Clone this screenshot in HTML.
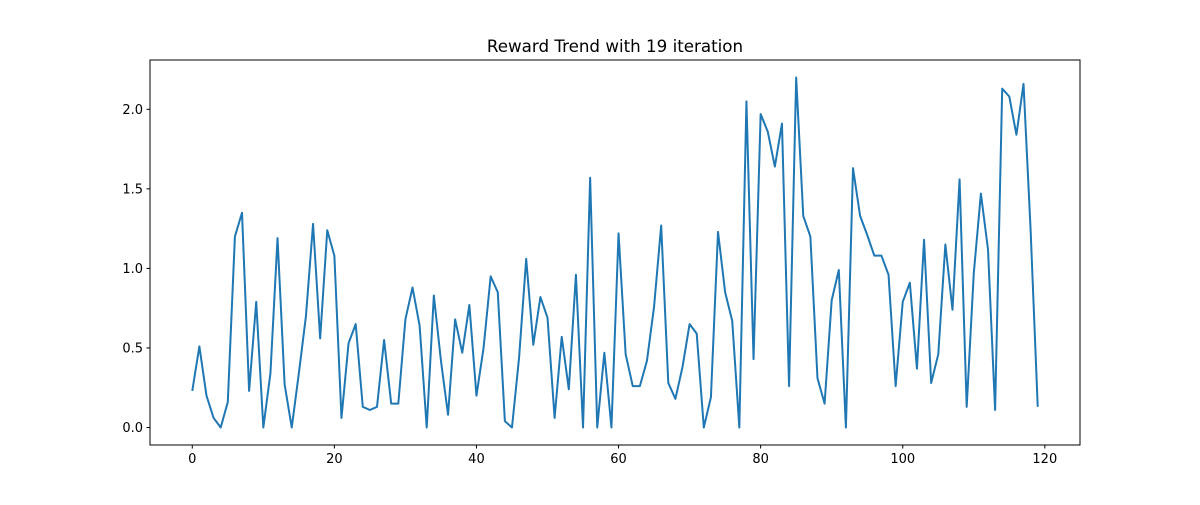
<!DOCTYPE html>
<html><head><meta charset="utf-8"><style>
body{margin:0;background:#fff;}
svg text{font-family:"DejaVu Sans","Liberation Sans",sans-serif;fill:#000;}
</style></head><body>
<svg id="chart" width="1200" height="500" xmlns="http://www.w3.org/2000/svg">
<rect width="1200" height="500" fill="#fff"/>
<text x="615" y="52" font-size="16.7" text-anchor="middle">Reward Trend with 19 iteration</text>
<g id="ticks"></g>
<polyline id="line" fill="none" stroke="#1f77b4" stroke-width="2" stroke-linejoin="round"/>
<rect x="150" y="60" width="930" height="385" fill="none" stroke="#000" stroke-width="1"/>
</svg>
<script>
const rewards=[0.23,0.51,0.2,0.06,0.0,0.16,1.2,1.35,0.23,0.79,0.0,0.34,1.19,0.27,0.0,0.34,0.7,1.28,0.56,1.24,1.08,0.06,0.53,0.65,0.13,0.11,0.13,0.55,0.15,0.15,0.68,0.88,0.64,0.0,0.83,0.42,0.08,0.68,0.47,0.77,0.2,0.5,0.95,0.85,0.04,0.0,0.44,1.06,0.52,0.82,0.69,0.06,0.57,0.24,0.96,0.0,1.57,0.0,0.47,0.0,1.22,0.46,0.26,0.26,0.42,0.76,1.27,0.28,0.18,0.38,0.65,0.59,0.0,0.19,1.23,0.85,0.67,0.0,2.05,0.43,1.97,1.86,1.64,1.91,0.26,2.2,1.33,1.2,0.31,0.15,0.8,0.99,0.0,1.63,1.33,1.21,1.08,1.08,0.96,0.26,0.79,0.91,0.37,1.18,0.28,0.46,1.15,0.74,1.56,0.13,0.97,1.47,1.12,0.11,2.13,2.08,1.84,2.16,1.24,0.13];
const xTicks=[0,20,40,60,80,100,120];
const yTicks=[0.0,0.5,1.0,1.5,2.0];
const yTickLabels=["0.0","0.5","1.0","1.5","2.0"];
const X0=150,X1=1080,Y0=445,Y1=60;
const xMin=-5.95,xMax=124.95,yMin=-0.11,yMax=2.31;
const sx=v=>X0+(v-xMin)/(xMax-xMin)*(X1-X0);
const sy=v=>Y0-(v-yMin)/(yMax-yMin)*(Y0-Y1);
const NS="http://www.w3.org/2000/svg";
const g=document.getElementById('ticks');
function mk(t,a){const e=document.createElementNS(NS,t);for(const k in a)e.setAttribute(k,a[k]);g.appendChild(e);return e;}
xTicks.forEach(v=>{
 const l=mk('line',{x1:sx(v),x2:sx(v),y1:Y0,y2:Y0+3.5,stroke:'#000'});
 
 
 const t=mk('text',{x:sx(v),y:Y0+18,'font-size':'13','text-anchor':'middle'});
 
 
 t.textContent=v;
});
yTicks.forEach((v,i)=>{
 const l=mk('line',{x1:X0-3.5,x2:X0,y1:sy(v),y2:sy(v),stroke:'#000'});
 
 
 const t=mk('text',{x:X0-7,y:sy(v)+4.5,'font-size':'13','text-anchor':'end'});
 
 
 t.textContent=yTickLabels[i];
});
document.getElementById('line').setAttribute('points',rewards.map((v,i)=>sx(i)+','+sy(v)).join(' '));
</script>
</body></html>
